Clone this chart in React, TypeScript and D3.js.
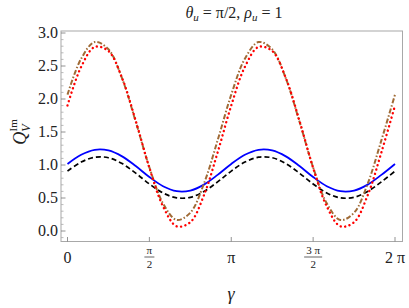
import * as d3 from 'd3';

const W = 409;
const H = 308;

// gamma samples: k * pi/12, k = 0..24
const gammaSteps = d3.range(25);

// values, one per gamma step
const blueSolid = [1.016, 1.155, 1.230, 1.221, 1.131, 0.984, 0.818, 0.679, 0.604, 0.613, 0.703, 0.850,
  1.016, 1.155, 1.230, 1.221, 1.131, 0.984, 0.818, 0.679, 0.604, 0.613, 0.703, 0.850, 1.016];
const blackDashed = [0.907, 1.044, 1.118, 1.110, 1.021, 0.876, 0.713, 0.576, 0.502, 0.510, 0.599, 0.744,
  0.907, 1.044, 1.118, 1.110, 1.021, 0.876, 0.713, 0.576, 0.502, 0.510, 0.599, 0.744, 0.907];
const brownDashDot = [2.066, 2.611, 2.863, 2.753, 2.312, 1.657, 0.964, 0.419, 0.167, 0.277, 0.718, 1.373,
  2.066, 2.611, 2.863, 2.753, 2.312, 1.657, 0.964, 0.419, 0.167, 0.277, 0.718, 1.373, 2.066];
const redDotted = [1.902, 2.487, 2.789, 2.727, 2.317, 1.670, 0.958, 0.373, 0.071, 0.133, 0.543, 1.190,
  1.902, 2.487, 2.789, 2.727, 2.317, 1.670, 0.958, 0.373, 0.071, 0.133, 0.543, 1.190, 1.902];

const yTicks = [0, 0.5, 1, 1.5, 2, 2.5, 3];
const yTickLabels = ['0.0', '0.5', '1.0', '1.5', '2.0', '2.5', '3.0'];
const xTicks = [0, Math.PI / 2, Math.PI, 3 * Math.PI / 2, 2 * Math.PI];
// [numerator, denominator] for fractions, or plain text
const xTickLabels: (string | [string, string])[] = ['0', ['π', '2'], 'π', ['3 π', '2'], '2 π'];

const INK = '#222';

const frame = { left: 61, top: 31, right: 402.5, bottom: 241.5 };
const x = d3.scaleLinear().domain([0, 2 * Math.PI]).range([67.5, 395]);
const y = d3.scaleLinear().domain([0, 3]).range([231, 33]);

const line = d3.line<number>()
  .x((_, i) => x(gammaSteps[i] * Math.PI / 12))
  .y(d => y(d))
  .curve(d3.curveCatmullRom.alpha(0.5));

const series = [
  { data: blueSolid, color: '#0000ff', width: 1.8, dash: undefined, cap: 'butt' },
  { data: blackDashed, color: '#000000', width: 1.7, dash: '5,3', cap: 'butt' },
  { data: brownDashDot, color: '#a06a35', width: 2, dash: '5,2,1.5,2', cap: 'butt' },
  { data: redDotted, color: '#ff0000', width: 2.4, dash: '0.1,4.4', cap: 'round' },
];

const minorY = d3.range(-1, 31).map(k => k / 10);

const App = () => (
  <svg width={W} height={H} style={{ position: 'absolute', left: 0, top: 0, fontFamily: "'Liberation Serif'" }}>
    <defs>
      <clipPath id="plotclip">
        <rect x={frame.left} y={frame.top} width={frame.right - frame.left} height={frame.bottom - frame.top} />
      </clipPath>
    </defs>

    <rect x={frame.left} y={frame.top} width={frame.right - frame.left} height={frame.bottom - frame.top}
      fill="none" stroke="#a8a8a8" strokeWidth={1} />

    {minorY.map(v => {
      const major = v * 2 === Math.round(v * 2);
      return (
        <line key={v} x1={frame.left} x2={frame.left + (major ? 4.5 : 2.5)} y1={y(v)} y2={y(v)}
          stroke={major ? '#777' : '#aaa'} strokeWidth={0.8} />
      );
    })}

    {yTicks.map((v, i) => (
      <text key={v} x={58} y={y(v) + 5} textAnchor="end" fill={INK} fontSize={16}>{yTickLabels[i]}</text>
    ))}

    {xTicks.map((v, i) => {
      const lab = xTickLabels[i];
      const hw = typeof lab === 'string' ? 0 : (lab[0].length > 1 ? 9 : 5);
      return (
        <g key={i}>
          <line x1={x(v)} x2={x(v)} y1={frame.bottom} y2={frame.bottom - 4.5} stroke="#777" strokeWidth={0.8} />
          {typeof lab === 'string' ? (
            <text x={x(v)} y={263} textAnchor="middle" fill={INK} fontSize={16}>{lab}</text>
          ) : (
            <g>
              <text x={x(v)} y={254} textAnchor="middle" fill={INK} fontSize={11}>{lab[0]}</text>
              <line x1={x(v) - hw} x2={x(v) + hw} y1={257} y2={257} stroke={INK} strokeWidth={0.7} />
              <text x={x(v)} y={268} textAnchor="middle" fill={INK} fontSize={11}>{lab[1]}</text>
            </g>
          )}
        </g>
      );
    })}

    <g clipPath="url(#plotclip)">
      {series.map((s, i) => (
        <path key={i} d={line(s.data) ?? ''} fill="none" stroke={s.color} strokeWidth={s.width}
          strokeDasharray={s.dash} strokeLinecap={s.cap as any} />
      ))}
    </g>

    <text x={234} y={18} textAnchor="middle" fill={INK} fontSize={16}>
      <tspan fontStyle="italic">θ</tspan>
      <tspan dy={3} fontStyle="italic" fontSize={11}>u</tspan>
      <tspan dy={-3}> = π/2, </tspan>
      <tspan fontStyle="italic">ρ</tspan>
      <tspan dy={3} fontStyle="italic" fontSize={11}>u</tspan>
      <tspan dy={-3}> = 1</tspan>
    </text>

    <text x={231} y={300} textAnchor="middle" fill={INK} fontSize={18} fontStyle="italic">γ</text>

    <text transform="translate(26,132) rotate(-90)" textAnchor="middle" fill={INK} fontSize={18}>
      <tspan fontStyle="italic">Q</tspan>
      <tspan dy={4} fontStyle="italic" fontSize={12}>V</tspan>
      <tspan dx={-7} dy={-13} fontSize={11}>Im</tspan>
    </text>
  </svg>
);

export default App;
